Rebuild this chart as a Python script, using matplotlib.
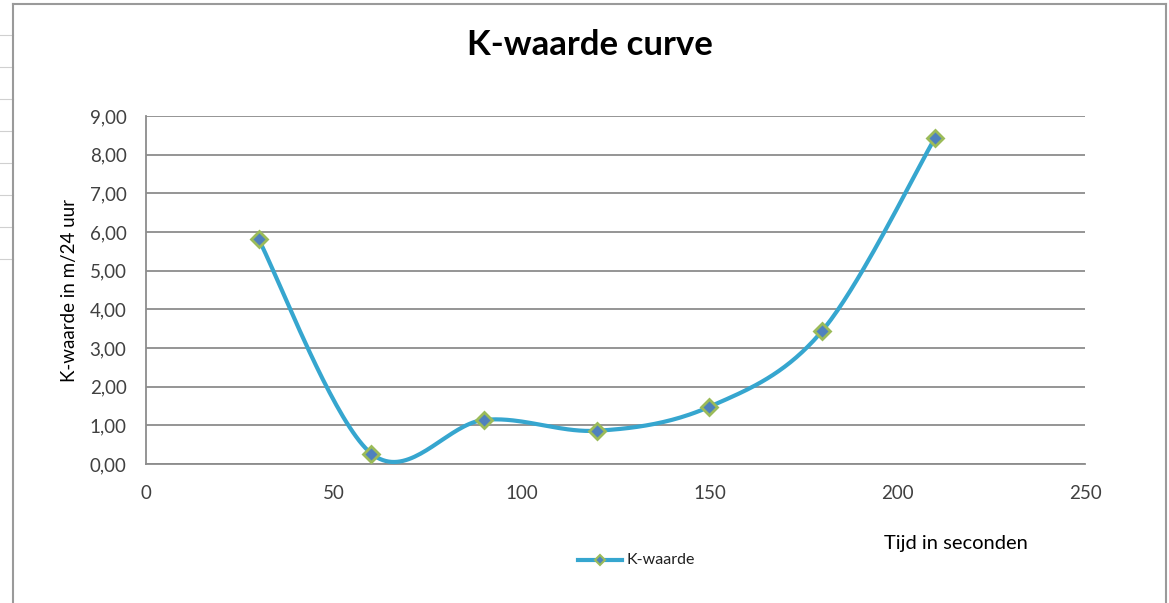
import numpy as np
import matplotlib
matplotlib.use("Agg")
import matplotlib.pyplot as plt
from matplotlib.lines import Line2D

# Data
tijd = [30, 60, 90, 120, 150, 180, 210]
k_waarde = [5.81, 0.27, 1.14, 0.86, 1.48, 3.44, 8.42]
x_ticks = [0, 50, 100, 150, 200, 250]
y_ticks = [0, 1, 2, 3, 4, 5, 6, 7, 8, 9]

FONT = ["Lato", "DejaVu Sans"]
plt.rcParams['font.family'] = FONT

def smooth(xs, ys, n=40):
    # Catmull-Rom style smoothing (Excel-like smoothed line)
    xs = np.asarray(xs, float); ys = np.asarray(ys, float)
    P = np.column_stack([xs, ys])
    out = []
    for i in range(len(P) - 1):
        p0 = P[i - 1] if i > 0 else P[i]
        p1 = P[i]
        p2 = P[i + 1]
        p3 = P[i + 2] if i + 2 < len(P) else P[i + 1]
        c1 = p1 + (p2 - p0) / 6.0
        c2 = p2 - (p3 - p1) / 6.0
        t = np.linspace(0, 1, n)[:, None]
        seg = ((1 - t) ** 3) * p1 + 3 * ((1 - t) ** 2) * t * c1 + 3 * (1 - t) * t ** 2 * c2 + t ** 3 * p2
        out.append(seg if i == 0 else seg[1:])
    s = np.vstack(out)
    return s[:, 0], s[:, 1]

W, H = 1169, 603
fig = plt.figure(figsize=(W / 100, H / 100), dpi=100)
fig.patch.set_facecolor("white")

# spreadsheet cell lines at the far left
for yy in [35, 67, 99, 131, 163, 195, 227, 259]:
    fig.add_artist(Line2D([0, 13 / W], [1 - yy / H, 1 - yy / H], color="#d0d0d0", lw=0.8))
# chart border
fig.add_artist(Line2D([13 / W, 13 / W], [0, 1 - 4 / H], color="#9a9a9a", lw=1.5))
fig.add_artist(Line2D([1166 / W, 1166 / W], [0, 1 - 4 / H], color="#9a9a9a", lw=1.5))
fig.add_artist(Line2D([13 / W, 1166 / W], [1 - 4 / H, 1 - 4 / H], color="#9a9a9a", lw=1.5))

ax = fig.add_axes([146 / W, 1 - 464 / H, (1085 - 146) / W, (464 - 116) / H])
ax.set_xlim(0, 250)
ax.set_ylim(0, 9)
ax.set_xticks(x_ticks)
ax.set_yticks(y_ticks)
ax.set_xticklabels([str(v) for v in x_ticks])
ax.set_yticklabels([f"{v:.2f}".replace(".", ",") for v in y_ticks])
ax.tick_params(length=0, labelsize=13.5, colors="#404040")
ax.tick_params(axis="y", pad=14)
ax.tick_params(axis="x", pad=15)
for lab in ax.get_xticklabels() + ax.get_yticklabels():
    lab.set_family(FONT)
ax.grid(axis="y", color="#8c8c8c", lw=1.3)
ax.set_axisbelow(True)
for side in ["top", "right"]:
    ax.spines[side].set_visible(False)
ax.spines["left"].set_color("#8c8c8c")
ax.spines["bottom"].set_color("#8c8c8c")
ax.spines["left"].set_linewidth(1.3)
ax.spines["bottom"].set_linewidth(1.3)

sx, sy = smooth(tijd, k_waarde)
ax.plot(sx, sy, color="#36a6cf", lw=3.0, solid_capstyle="round", clip_on=False, zorder=3)
ax.plot(tijd, k_waarde, ls="none", marker="D", ms=8, mfc="#4f81bd", mec="#9bbb59", mew=2.0,
        clip_on=False, zorder=4)

fig.text(590 / W, 1 - 45 / H, "K-waarde curve", ha="center", va="center", fontsize=25,
         fontweight="bold", color="#000000", family=FONT)
fig.text(70 / W, 1 - 290 / H, "K-waarde in m/24 uur", ha="center", va="center", rotation=90,
         fontsize=13.5, color="#000000", family=FONT)
fig.text(956 / W, 1 - 543 / H, "Tijd in seconden", ha="center", va="center", fontsize=14.5,
         color="#000000", family=FONT)

# legend
lx0, lx1, ly = 578 / W, 622 / W, 1 - 560 / H
fig.add_artist(Line2D([lx0, lx1], [ly, ly], color="#36a6cf", lw=3.0))
fig.add_artist(Line2D([(lx0 + lx1) / 2], [ly], marker="D", ms=5, mfc="#4f81bd", mec="#9bbb59",
                      mew=1.5, ls="none"))
fig.text(626 / W, ly, "K-waarde", ha="left", va="center", fontsize=11.5, color="#202020", family=FONT)

fig.savefig("out.png", dpi=100)
